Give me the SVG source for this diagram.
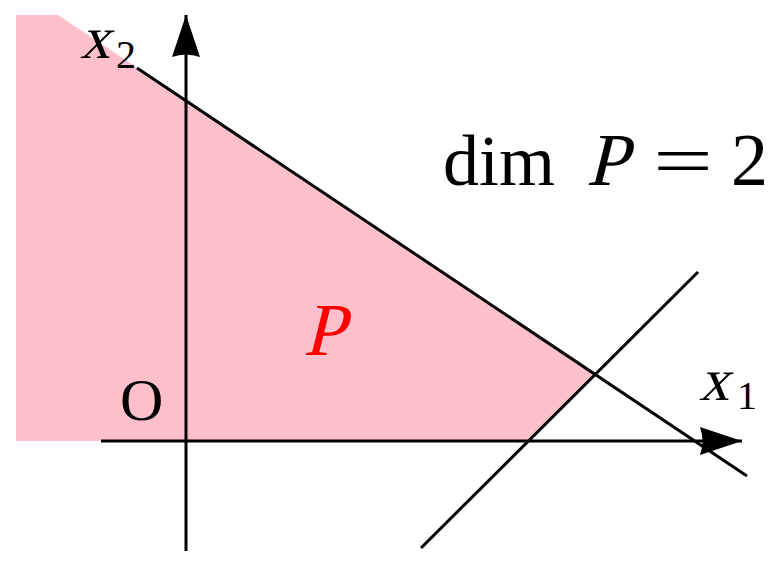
<svg xmlns="http://www.w3.org/2000/svg" width="777" height="567" viewBox="0 0 777 567">
<style>
.ln{stroke:#000;stroke-width:3;fill:none}
.t{font-family:"Liberation Serif","DejaVu Serif",serif;fill:#000}
</style>
<defs>
<marker id="arr" markerUnits="userSpaceOnUse" markerWidth="50" markerHeight="40" refX="42" refY="14" orient="auto" viewBox="0 0 50 40">
<path d="M42,14 L0,0 Q5,14 0,28 Z" fill="#000"/>
</marker>
</defs>
<g id="region">
<polygon points="16,15 58,15 596,373 528,441 16,441" fill="#FFC0CB"/>
</g>
<g id="connectors">
<line class="ln" x1="101" y1="441" x2="742" y2="441" marker-end="url(#arr)"/>
<line class="ln" x1="186" y1="551" x2="186" y2="15" marker-end="url(#arr)"/>
<line class="ln" x1="137" y1="68" x2="747" y2="476"/>
<line class="ln" x1="421" y1="548" x2="698" y2="272"/>
</g>
<g id="labels">
<text class="t" transform="translate(80,58) skewX(-14)" font-size="60">x</text>
<text class="t" x="116" y="68" font-size="40">2</text>
<text class="t" transform="translate(699,400) skewX(-14)" font-size="60">x</text>
<text class="t" x="737" y="409" font-size="40">1</text>
<text class="t" x="120" y="420" font-size="60">O</text>
<text class="t" transform="translate(303,355) skewX(-14)" font-size="75" style="fill:#FF0000">P</text>
<text class="t" x="443" y="185" font-size="72">dim</text>
<text class="t" transform="translate(586,185) skewX(-14)" font-size="75">P</text>
<text class="t" x="653" y="185" font-size="72" textLength="60" lengthAdjust="spacingAndGlyphs">=</text>
<text class="t" x="731" y="185" font-size="74">2</text>
</g>
</svg>
